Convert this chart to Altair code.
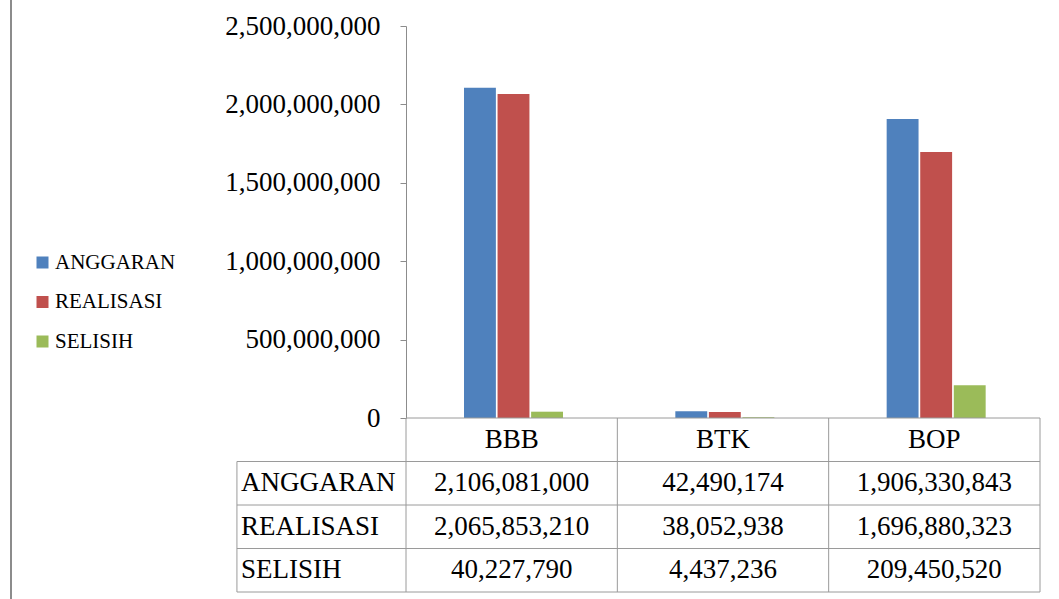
import altair as alt
import pandas as pd

# ---- data ----
categories = ["BBB", "BTK", "BOP"]
series = ["ANGGARAN", "REALISASI", "SELISIH"]
anggaran = [2106081000, 42490174, 1906330843]
realisasi = [2065853210, 38052938, 1696880323]
selisih = [40227790, 4437236, 209450520]
y_ticks = [0, 500000000, 1000000000, 1500000000, 2000000000, 2500000000]
colors = ["#4F81BD", "#C0504D", "#9BBB59"]

values = {"ANGGARAN": anggaran, "REALISASI": realisasi, "SELISIH": selisih}

bars_df = pd.DataFrame(
    [{"cat": c, "series": s, "value": values[s][i]}
     for s in series for i, c in enumerate(categories)]
)

# ---- layout ----
W, H = 634, 566          # plot area incl. table
PLOT_H = 392             # bar area height
LABEL_COL = 0.8          # row-header column width in category units
FONT = "Liberation Serif"
FS = 27
GRID = "#9a9a9a"
n = len(categories)

# table cells
cells = []
for i, c in enumerate(categories):
    cells.append({"xc": i + 0.5, "yc": 0.5, "txt": c})
for r, s in enumerate(series):
    for i, c in enumerate(categories):
        cells.append({"xc": i + 0.5, "yc": r + 1.5, "txt": f"{values[s][i]:,}"})
cells_df = pd.DataFrame(cells)

row_heads_df = pd.DataFrame(
    [{"xc": -LABEL_COL, "yc": r + 1.5, "txt": s} for r, s in enumerate(series)]
)

lines = [{"x": 0, "x2": n, "y": 0, "y2": 0}]
for r in range(1, len(series) + 2):
    lines.append({"x": -LABEL_COL, "x2": n, "y": r, "y2": r})
lines.append({"x": -LABEL_COL, "x2": -LABEL_COL, "y": 1, "y2": len(series) + 1})
for i in range(n + 1):
    lines.append({"x": i, "x2": i, "y": 0, "y2": len(series) + 1})
lines_df = pd.DataFrame(lines)

xs = alt.Scale(domain=[-LABEL_COL, n], range=[-LABEL_COL * W / n, W], zero=False, nice=False)
ys = alt.Scale(domain=[0, len(series) + 1], range=[PLOT_H, H], zero=False, nice=False)

# ---- bars ----
bars = alt.Chart(bars_df).mark_bar().encode(
    x=alt.X("cat:N", sort=categories, scale=alt.Scale(paddingInner=0, paddingOuter=0), axis=None),
    xOffset=alt.XOffset("series:N", sort=series,
                        scale=alt.Scale(range=[58, 157], paddingInner=0.05, paddingOuter=0)),
    y=alt.Y("value:Q",
            scale=alt.Scale(domain=[0, 2500000000], range=[PLOT_H, 0], nice=False),
            axis=alt.Axis(values=y_ticks, labelExpr="format(datum.value, ',')",
                          title=None, grid=False,
                          labelFont=FONT, labelFontSize=FS, labelColor="black",
                          domainColor="#8c8c8c", tickColor="#8c8c8c",
                          tickSize=6, labelPadding=20)),
    color=alt.Color("series:N",
                    scale=alt.Scale(domain=series, range=colors),
                    legend=alt.Legend(title=None, orient="none", legendX=-374, legendY=226,
                                      symbolType="square", symbolSize=144,
                                      symbolStrokeWidth=0, labelFont=FONT,
                                      labelFontSize=21, labelColor="black",
                                      labelOffset=2, rowPadding=17.5)),
)

# ---- table ----
rules = alt.Chart(lines_df).mark_rule(color=GRID, strokeWidth=1).encode(
    x=alt.X("x:Q", scale=xs, axis=None), x2="x2:Q",
    y=alt.Y("y:Q", scale=ys, axis=None), y2="y2:Q",
)
cell_text = alt.Chart(cells_df).mark_text(
    font=FONT, fontSize=FS, color="black", align="center", baseline="middle"
).encode(
    x=alt.X("xc:Q", scale=xs, axis=None),
    y=alt.Y("yc:Q", scale=ys, axis=None),
    text="txt:N",
)
head_text = alt.Chart(row_heads_df).mark_text(
    font=FONT, fontSize=FS, color="black", align="left", baseline="middle", dx=4
).encode(
    x=alt.X("xc:Q", scale=xs, axis=None),
    y=alt.Y("yc:Q", scale=ys, axis=None),
    text="txt:N",
)
table = alt.layer(rules, cell_text, head_text)

# chart-area border on the left
border = alt.Chart(pd.DataFrame({"a": [0]})).mark_rule(color="#8c8c8c", strokeWidth=2).encode(
    x=alt.value(-395), y=alt.value(-26), y2=alt.value(573)
)

chart = alt.layer(bars, table, border).resolve_scale(
    x="independent", y="independent"
).properties(
    width=W, height=H,
    padding={"left": 406, "top": 26, "right": 19, "bottom": 7},
    autosize=alt.AutoSizeParams(type="none"),
    background="white",
).configure_view(stroke=None)

chart.save("out.html", embed_options={"renderer": "svg", "actions": False})
